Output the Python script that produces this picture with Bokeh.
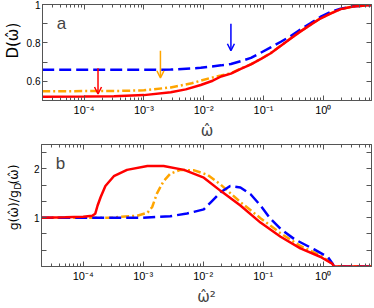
import numpy as np
from bokeh.plotting import figure
from bokeh.layouts import column, row
from bokeh.models import (Range1d, LogAxis, LinearAxis, FixedTicker, Label,
                          Arrow, OpenHead, CustomJSTickFormatter)
from bokeh.core.properties import value
from bokeh.embed import file_html
from bokeh.resources import INLINE

# ---------------- data ----------------
x_ticks = [1e-4, 1e-3, 1e-2, 1e-1, 1e0]
x_tick_labels = ["10⁻⁴", "10⁻³", "10⁻²", "10⁻¹", "10⁰"]

# panel a : D(w) ; x given as log10(w)
a_red_lx = [-4.70, -4.0, -3.5, -3.0, -2.55, -2.3, -2.05, -1.85, -1.71, -1.545, -1.38, -1.21,
            -1.05, -0.88, -0.71, -0.545, -0.38, -0.21, -0.05, 0.12, 0.29, 0.5, 0.81]
a_red_y = [0.520, 0.521, 0.522, 0.528, 0.543, 0.558, 0.581, 0.603, 0.625, 0.640, 0.665, 0.688,
           0.715, 0.746, 0.785, 0.823, 0.860, 0.895, 0.927, 0.953, 0.976, 0.990, 0.997]
a_orange_lx = [-4.70, -3.4, -3.0, -2.55, -2.2, -1.88, -1.71, -1.545, -1.38, -1.21, -1.05, -0.88,
               -0.71, -0.545, -0.38, -0.21, -0.05, 0.12, 0.29, 0.5, 0.81]
a_orange_y = [0.548, 0.550, 0.553, 0.568, 0.590, 0.618, 0.630, 0.642, 0.666, 0.689, 0.716, 0.747,
              0.786, 0.824, 0.861, 0.896, 0.928, 0.954, 0.976, 0.990, 0.997]
a_blue_lx = [-4.70, -3.0, -2.55, -2.05, -1.71, -1.545, -1.38, -1.21, -1.05, -0.88, -0.71, -0.545,
             -0.38, -0.21, -0.05, 0.12, 0.29, 0.5, 0.81]
a_blue_y = [0.660, 0.660, 0.661, 0.670, 0.683, 0.690, 0.705, 0.722, 0.748, 0.777, 0.806, 0.836,
            0.870, 0.903, 0.935, 0.961, 0.978, 0.991, 0.997]

# arrows in panel a
arrow_x = [1.71e-4, 1.89e-3, 2.85e-2]
arrow_y_start = [0.668, 0.759, 0.900]
arrow_y_end = [0.534, 0.618, 0.759]
arrow_colors = ["#ff0000", "#ffa500", "#0000ff"]

# panel b : g(w)/g_D(w) ; x given as log10(w^2)
b_red_lx = [-4.70, -4.3, -4.0, -3.85, -3.80, -3.76, -3.71, -3.63, -3.49, -3.27, -2.93, -2.66,
            -2.32, -1.99, -1.71, -1.38, -1.045, -0.71, -0.38, -0.05, 0.15, 0.18, 0.81]
b_red_y = [1.00, 1.01, 1.02, 1.04, 1.08, 1.25, 1.42, 1.65, 1.85, 1.98, 2.06, 2.06,
           1.98, 1.82, 1.55, 1.25, 0.90, 0.61, 0.37, 0.20, 0.06, 0.0, 0.0]
b_orange_lx = [-4.70, -3.5, -3.37, -3.1, -2.93, -2.85, -2.77, -2.66, -2.55, -2.38, -2.15, -1.93,
               -1.71, -1.38, -1.045, -0.71, -0.38, -0.05, 0.13, 0.18, 0.81]
b_orange_y = [1.00, 1.00, 1.02, 1.04, 1.10, 1.22, 1.50, 1.75, 1.90, 1.98, 1.97, 1.88,
              1.68, 1.32, 0.99, 0.68, 0.42, 0.23, 0.08, 0.0, 0.0]
b_blue_lx = [-4.70, -3.0, -2.55, -2.27, -1.99, -1.87, -1.71, -1.55, -1.38, -1.21, -1.045, -0.88,
             -0.71, -0.48, -0.15, 0.08, 0.16, 0.18, 0.81]
b_blue_y = [1.00, 1.00, 1.03, 1.085, 1.17, 1.32, 1.52, 1.65, 1.62, 1.48, 1.25, 0.98,
            0.77, 0.56, 0.35, 0.19, 0.05, 0.0, 0.0]

# axis titles
ylabel_a = "D(ω̂)"
ylabel_b_parts = ["g(ω̂)/g", "D", "(ω̂)"]
xlabel_a = "ω̂"
xlabel_b = "ω̂²"

# ---------------- styling ----------------
GRAY = "#555555"
FONT = "Liberation Sans"
OFONT = "DejaVu Sans"
LAB_W = 23
LX_MIN, LX_MAX = -4.695, 0.805
X_MIN, X_MAX = 10 ** LX_MIN, 10 ** LX_MAX
minor_x = [m * 10.0 ** e for e in range(-5, 1) for m in range(2, 10)]
minor_x = [v for v in minor_x if X_MIN < v < X_MAX]

fmt = CustomJSTickFormatter(args=dict(xt_vals=x_ticks, xt_labels=x_tick_labels), code="""
const i = xt_vals.findIndex(t => Math.abs(Math.log10(t) - Math.log10(tick)) < 1e-6);
return i >= 0 ? xt_labels[i] : '';
""")
blank = CustomJSTickFormatter(code="return '';")


def style(ax, labels=True, minor_len=3):
    ax.axis_line_color = GRAY
    ax.major_tick_line_color = GRAY
    ax.minor_tick_line_color = GRAY
    ax.major_tick_in = 5
    ax.major_tick_out = 0
    ax.minor_tick_in = minor_len
    ax.minor_tick_out = 0
    ax.major_label_text_color = "black"
    ax.major_label_text_font = FONT
    if not labels:
        ax.formatter = blank
        ax.major_label_standoff = 0


def make_fig(height, y0, y1, yticks, yminor, b_top, b_bottom, xlabel):
    p = figure(width=374 - LAB_W, height=height, x_axis_type="log",
               x_range=Range1d(X_MIN, X_MAX), y_range=Range1d(y0, y1),
               output_backend="svg", toolbar_location=None,
               min_border_left=41 - LAB_W, min_border_right=3, min_border_top=b_top,
               min_border_bottom=b_bottom)
    p.grid.visible = False
    p.outline_line_color = GRAY
    p.background_fill_color = "white"
    p.xaxis.ticker = FixedTicker(ticks=x_ticks, minor_ticks=minor_x)
    p.xaxis.formatter = fmt
    p.yaxis.ticker = FixedTicker(ticks=yticks, minor_ticks=yminor)
    for ax in p.xaxis:
        style(ax)
        ax.major_label_text_font_size = "11px"
        ax.major_label_standoff = 3
        ax.axis_label = xlabel
        ax.axis_label_text_font = OFONT
        ax.axis_label_text_font_style = "normal"
        ax.axis_label_text_font_size = "15px"
        ax.axis_label_standoff = 3
    for ax in p.yaxis:
        style(ax, minor_len=5)
        ax.major_label_text_font_size = "10px"
        ax.major_label_standoff = 2
    top = LogAxis(ticker=FixedTicker(ticks=x_ticks, minor_ticks=minor_x))
    style(top, labels=False)
    p.add_layout(top, "above")
    right = LinearAxis(ticker=FixedTicker(ticks=yticks, minor_ticks=yminor))
    style(right, labels=False, minor_len=5)
    p.add_layout(right, "right")
    return p


def label_strip(height):
    """narrow figure holding a rotated y-axis title, coordinates in pixels"""
    s = figure(width=LAB_W, height=height, x_range=Range1d(0, LAB_W),
               y_range=Range1d(0, height), output_backend="svg", toolbar_location=None,
               min_border=0)
    s.axis.visible = False
    s.grid.visible = False
    s.outline_line_color = None
    return s


# ---------------- panel a ----------------
p1 = make_fig(142, 0.5, 1.0, [0.6, 0.8, 1.0], [0.5, 0.7, 0.9], 4, 38, xlabel_a)
p1.line([10 ** v for v in a_orange_lx], a_orange_y, line_color="#ffa500", line_width=2.5,
        line_dash="8 3 2 3")
p1.line([10 ** v for v in a_blue_lx], a_blue_y, line_color="#0000ff", line_width=2.5,
        line_dash="12 5")
p1.line([10 ** v for v in a_red_lx], a_red_y, line_color="#ff0000", line_width=2.5)
for xa, ys, ye, c in zip(arrow_x, arrow_y_start, arrow_y_end, arrow_colors):
    p1.add_layout(Arrow(x_start=xa, y_start=ys, x_end=xa, y_end=ye, line_color=c, line_width=1.5,
                        end=OpenHead(size=7, line_color=c, line_width=1.5)))
p1.add_layout(Label(x=4.2e-5, y=0.9, text="a", text_font=FONT, text_font_size="17px",
                    text_align="center", text_baseline="middle"))

s1 = label_strip(142)
s1.text(x=[12.5], y=[88.5], text=[ylabel_a], angle=np.pi / 2,
        text_font=value(OFONT), text_font_size=value("15px"),
        text_align="center", text_baseline="middle", text_color="black")

# ---------------- panel b ----------------
p2 = make_fig(166, 0.0, 2.5, [1, 2], [1 / 3, 2 / 3, 4 / 3, 5 / 3, 7 / 3], 2, 39, xlabel_b)
p2.line([10 ** v for v in b_orange_lx], b_orange_y, line_color="#ffa500", line_width=2.5,
        line_dash="8 3 2 3")
p2.line([10 ** v for v in b_blue_lx], b_blue_y, line_color="#0000ff", line_width=2.5,
        line_dash="12 5")
p2.line([10 ** v for v in b_red_lx], b_red_y, line_color="#ff0000", line_width=2.5)
p2.add_layout(Label(x=4.2e-5, y=2.12, text="b", text_font=FONT, text_font_size="17px",
                    text_align="center", text_baseline="middle"))

s2 = label_strip(166)
# piece 1 ends where the subscript begins; piece 3 starts after the subscript
s2.text(x=[12.5], y=[104], text=[ylabel_b_parts[0]], angle=np.pi / 2,
        text_font=value(OFONT), text_font_size=value("12.5px"),
        text_align="right", text_baseline="middle", text_color="black")
s2.text(x=[17], y=[104.5], text=[ylabel_b_parts[1]], angle=np.pi / 2,
        text_font=value(OFONT), text_font_size=value("9px"),
        text_align="left", text_baseline="middle", text_color="black")
s2.text(x=[12.5], y=[111.5], text=[ylabel_b_parts[2]], angle=np.pi / 2,
        text_font=value(OFONT), text_font_size=value("12.5px"),
        text_align="left", text_baseline="middle", text_color="black")

layout = column(row(s1, p1, spacing=0), row(s2, p2, spacing=0), spacing=0)
open("out.html", "w").write(file_html(layout, INLINE))
